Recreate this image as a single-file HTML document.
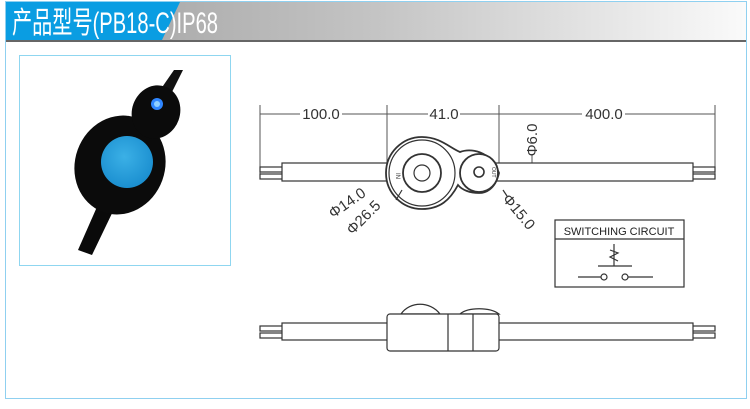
<!DOCTYPE html>
<html><head><meta charset="utf-8"><style>
body{margin:0;width:750px;height:404px;background:#fff;overflow:hidden;font-family:"Liberation Sans","Noto Sans CJK SC",sans-serif}
</style></head><body>
<svg width="750" height="404" viewBox="0 0 750 404" xmlns="http://www.w3.org/2000/svg">
<defs>
<linearGradient id="g" x1="0" x2="1"><stop offset="0" stop-color="#9c9c9c"/><stop offset="0.5" stop-color="#c4c4c4"/><stop offset="1" stop-color="#fafafa"/></linearGradient>
<radialGradient id="bb" cx="0.45" cy="0.4" r="0.6"><stop offset="0" stop-color="#3bb0e6"/><stop offset="1" stop-color="#1b8fd0"/></radialGradient>
<clipPath id="pc"><rect x="20" y="56" width="210" height="209"/></clipPath>
</defs>
<rect x="5.5" y="1.5" width="741" height="397" fill="#fff" stroke="#8fd0f0"/>
<rect x="6" y="2" width="740" height="38" fill="url(#g)"/>
<polygon points="6,2 180,2 162,40 6,40" fill="#0a9de2"/>
<rect x="6" y="40" width="740" height="2" fill="#666"/>
<text x="12" y="33" font-size="30" fill="#fff" textLength="206" lengthAdjust="spacingAndGlyphs">产品型号(PB18-C)IP68</text>
<rect x="19.5" y="55.5" width="211" height="210" fill="#fff" stroke="#8fd6f0"/>
<g clip-path="url(#pc)">
<path d="M174 70 L183 70 L168 100 L156 96 Z" fill="#111"/>
<path d="M100 200 L116 205 L92 255 L78 250 Z" fill="#0a0a0a"/>
<ellipse cx="120" cy="165" rx="45" ry="50" transform="rotate(20 120 165)" fill="#0b0b0b"/>
<ellipse cx="156" cy="112" rx="24" ry="27" transform="rotate(20 156 112)" fill="#0b0b0b"/>
<circle cx="127" cy="162" r="26" fill="url(#bb)"/>
<circle cx="157" cy="104" r="6" fill="#2f86ff"/>
<circle cx="157" cy="104" r="3" fill="#8fd0ff"/>
</g>
<g stroke="#555" stroke-width="1" fill="none">
<line x1="260" y1="105" x2="260" y2="175"/><line x1="387" y1="105" x2="387" y2="165"/>
<line x1="499" y1="105" x2="499" y2="165"/><line x1="715" y1="105" x2="715" y2="175"/>
<line x1="260" y1="114" x2="300" y2="114"/><line x1="342" y1="114" x2="387" y2="114"/>
<line x1="387" y1="114" x2="428" y2="114"/><line x1="460" y1="114" x2="499" y2="114"/>
<line x1="499" y1="114" x2="582" y2="114"/><line x1="625" y1="114" x2="715" y2="114"/>
<line x1="532" y1="155" x2="532" y2="181"/>
</g>
<g font-size="15" fill="#333">
<text x="321" y="119" text-anchor="middle">100.0</text>
<text x="444" y="119" text-anchor="middle">41.0</text>
<text x="604" y="119" text-anchor="middle">400.0</text>
<text transform="translate(537,140) rotate(-90)" text-anchor="middle">Φ6.0</text>
<text transform="translate(350,207) rotate(-35)" text-anchor="middle">Φ14.0</text>
<text transform="translate(367,221) rotate(-45)" text-anchor="middle">Φ26.5</text>
<text transform="translate(515,215) rotate(50)" text-anchor="middle">Φ15.0</text>
</g>
<g stroke="#333" stroke-width="1.2" fill="#fff">
<rect x="260" y="167" width="24" height="5"/><rect x="260" y="174" width="24" height="5"/>
<rect x="691" y="167" width="24" height="5"/><rect x="691" y="174" width="24" height="5"/>
<rect x="282" y="163" width="411" height="18"/>
<path d="M422 137 C440 137 450 148 460 152 C470 148 490 150 499 173 C495 190 485 193 479 193 C470 193 462 190 458 185 C450 200 440 209 422 209 A36 36 0 0 1 422 137Z" stroke-width="1.8"/>
<circle cx="422" cy="173" r="33"/>
<circle cx="422" cy="173" r="19" stroke-width="1.8"/>
<circle cx="422" cy="173" r="8"/>
<circle cx="479" cy="173" r="19" stroke-width="1.8"/>
<circle cx="479" cy="172" r="5" stroke-width="1.6"/>
<line x1="396" y1="200" x2="402" y2="190"/>
<line x1="503" y1="190" x2="507" y2="196"/>
</g>
<text transform="translate(396,173) rotate(90)" font-size="6" fill="#333">IN</text>
<text transform="translate(492,167) rotate(90)" font-size="5" fill="#333">OUT</text>
<g stroke="#333" stroke-width="1.2" fill="none">
<rect x="555" y="220" width="129" height="67"/><line x1="555" y1="239" x2="684" y2="239"/>
<line x1="578" y1="277" x2="601" y2="277"/><circle cx="604" cy="277" r="3"/><circle cx="625" cy="277" r="3"/><line x1="628" y1="277" x2="653" y2="277"/>
<line x1="598" y1="266" x2="632" y2="266"/><line x1="614" y1="244" x2="614" y2="266"/>
<path d="M610 250 L618 253 L610 257 L618 261"/>
</g>
<text x="619" y="235" font-size="11" fill="#222" text-anchor="middle">SWITCHING CIRCUIT</text>
<g stroke="#333" stroke-width="1.2" fill="#fff">
<rect x="260" y="326" width="24" height="5"/><rect x="260" y="333" width="24" height="5"/>
<rect x="691" y="326" width="24" height="5"/><rect x="691" y="333" width="24" height="5"/>
<rect x="282" y="323" width="411" height="17"/>
<path d="M401 314 C410 301 430 301 440 314 Z"/>
<path d="M460 314 C468 307 490 307 499 314 Z"/>
<rect x="387" y="314" width="112" height="37" rx="3"/>
<line x1="448" y1="314" x2="448" y2="351"/><line x1="473" y1="314" x2="473" y2="351"/>
</g>
</svg>
</body></html>
